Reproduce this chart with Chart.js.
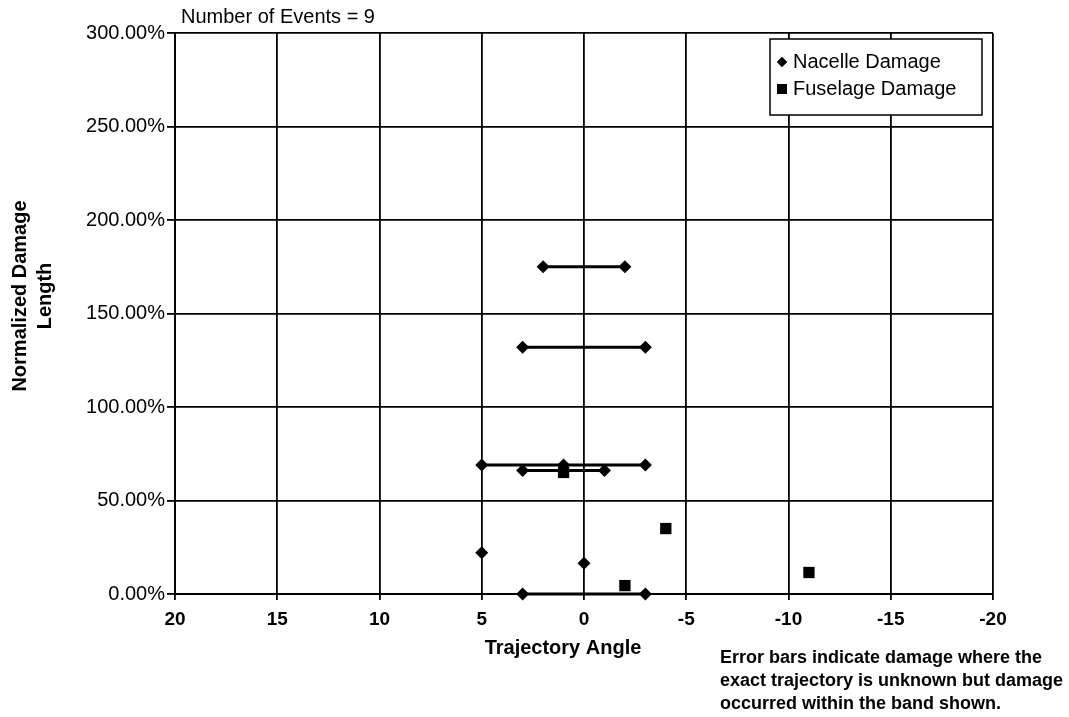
<!DOCTYPE html>
<html>
<head>
<meta charset="utf-8">
<script src="https://cdn.jsdelivr.net/npm/chart.js@4.4.1/dist/chart.umd.min.js"></script>
<style>
  body { margin: 0; background: #fff; }
  #wrap { position: relative; width: 1069px; height: 717px; }
  #note {
    position: absolute; left: 720px; top: 646px;
    font: bold 18px "Liberation Sans", Arial, sans-serif;
    line-height: 23px; color: #000; white-space: nowrap;
  }
</style>
</head>
<body>
<div id="wrap">
  <canvas id="chart"></canvas>
  <div id="note">Error bars indicate damage where the<br>exact trajectory is unknown but damage<br>occurred within the band shown.</div>
</div>
<script>
// values (angle in degrees, length in %)
const nacelleAngle  = [2, -2, 3, -3, 5, -3, 1, 3, -1, 5, 0, 3, -3];
const nacelleLength = [175, 175, 132, 132, 69, 69, 69, 66, 66, 22, 16.5, 0, 0];

const fuselageAngle  = [1, -4, -2, -11];
const fuselageLength = [65, 35, 4.5, 11.5];

// horizontal error bands: from angle -> to angle at a length
const bandFrom   = [2, 3, 5, 3, 3];
const bandTo     = [-2, -3, -3, -1, -3];
const bandLength = [175, 132, 69, 66, 0];

const angleTicks = [20, 15, 10, 5, 0, -5, -10, -15, -20];
const eventCount = 9;

const FONT = '"Liberation Sans", Arial, sans-serif';

function points(xs, ys) {
    return xs.map(function(x, i) { return { x: x, y: ys[i] }; });
}

const bandSets = bandLength.map(function(y, i) {
    return {
        label: 'band' + i,
        data: [{ x: bandFrom[i], y: y }, { x: bandTo[i], y: y }],
        showLine: true,
        borderColor: '#000',
        borderWidth: 3,
        pointRadius: 0,
        clip: false,
        order: 2
    };
});

const overlay = {
    id: 'overlay',
    afterDraw: function(chart) {
        const ctx = chart.ctx;
        const area = chart.chartArea;
        ctx.save();
        ctx.fillStyle = '#000';
        ctx.textBaseline = 'middle';
        ctx.textAlign = 'left';
        ctx.font = '20px ' + FONT;
        ctx.fillText('Number of Events = ' + eventCount, area.left + 6, 17);

        // axis titles
        ctx.font = 'bold 20px ' + FONT;
        ctx.textAlign = 'center';
        ctx.fillText('Trajectory Angle', 563, 648);
        ctx.save();
        ctx.translate(20, 296);
        ctx.rotate(-Math.PI / 2);
        ctx.fillText('Normalized Damage', 0, 0);
        ctx.fillText('Length', 0, 25);
        ctx.restore();

        // legend box
        const bx = 770, by = 39, bw = 212, bh = 76;
        ctx.fillStyle = '#fff';
        ctx.fillRect(bx, by, bw, bh);
        ctx.strokeStyle = '#000';
        ctx.lineWidth = 1.5;
        ctx.strokeRect(bx, by, bw, bh);
        ctx.fillStyle = '#000';
        Chart.helpers.drawPoint(ctx, { pointStyle: 'rectRot', radius: 5, borderWidth: 0 }, bx + 12, by + 23);
        ctx.fill();
        ctx.fillRect(bx + 7, by + 45, 10, 10);
        ctx.textAlign = 'left';
        ctx.font = '20px ' + FONT;
        ctx.fillText('Nacelle Damage', bx + 23, by + 23);
        ctx.fillText('Fuselage Damage', bx + 23, by + 50);
        ctx.restore();
    }
};

new Chart(document.getElementById('chart'), {
    type: 'scatter',
    data: {
        datasets: [
            {
                label: 'Nacelle Damage',
                data: points(nacelleAngle, nacelleLength),
                pointStyle: 'rectRot',
                pointRadius: 6.5,
                backgroundColor: '#000',
                borderColor: '#000',
                borderWidth: 0,
                clip: false,
                order: 0
            },
            {
                label: 'Fuselage Damage',
                data: points(fuselageAngle, fuselageLength),
                pointStyle: 'rect',
                pointRadius: 8,
                backgroundColor: '#000',
                borderColor: '#000',
                borderWidth: 0,
                clip: false,
                order: 1
            }
        ].concat(bandSets)
    },
    options: {
        responsive: true,
        maintainAspectRatio: false,
        animation: false,
        layout: { padding: { top: 33, right: 76, left: 0, bottom: 0 } },
        plugins: {
            legend: { display: false },
            tooltip: { enabled: false }
        },
        scales: {
            x: {
                type: 'linear',
                reverse: true,
                min: -20,
                max: 20,
                afterFit: function(s) { s.height = 123; },
                afterBuildTicks: function(s) {
                    s.ticks = angleTicks.map(function(v) { return { value: v }; });
                },
                ticks: {
                    color: '#000',
                    padding: 8,
                    font: { family: FONT, size: 19, weight: 'bold' }
                },
                grid: { color: '#000', lineWidth: 1.8, tickLength: 6 },
                border: { color: '#000', width: 2 },
                title: { display: false }
            },
            y: {
                min: 0,
                max: 300,
                afterFit: function(s) { s.width = 175; },
                ticks: {
                    stepSize: 50,
                    color: '#000',
                    padding: 2,
                    font: { family: FONT, size: 20 },
                    callback: function(v) { return v.toFixed(2) + '%'; }
                },
                grid: { color: '#000', lineWidth: 1.8, tickLength: 8 },
                border: { color: '#000', width: 2 },
                title: { display: false }
            }
        }
    },
    plugins: [overlay]
});
</script>
</body>
</html>
